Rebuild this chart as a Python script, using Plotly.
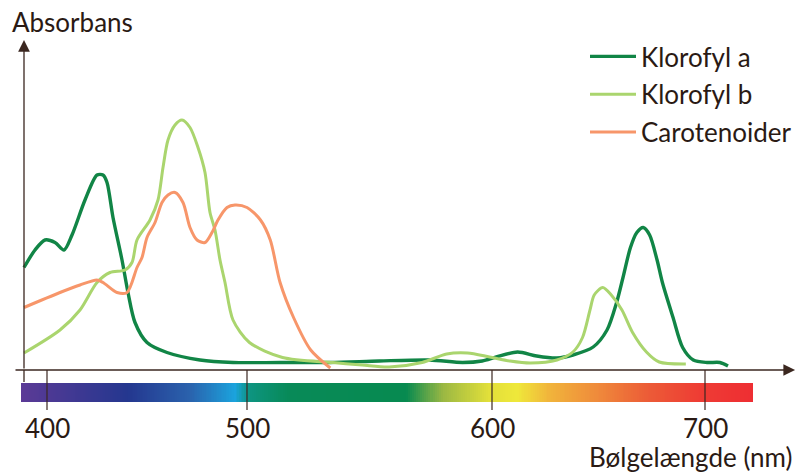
import numpy as np
import plotly.graph_objects as go

# ---------------- data (wavelength in nm, relative absorbance) ----------------
chl_a_nm = [388.5, 394, 399, 404, 408.5, 412.5, 419, 425, 428, 430, 433, 437.5, 440.5, 444, 450, 460,
            476.5, 493, 513.5, 534, 554, 574.5, 588, 596, 602, 612, 621, 630.5, 638, 647.5, 654, 658.5,
            661.5, 665, 668, 671, 674, 677.5, 680, 685, 689.5, 694.5, 701, 707, 710.8]
chl_a_abs = [0.41, 0.48, 0.52, 0.51, 0.48, 0.54, 0.68, 0.78, 0.78, 0.75, 0.61, 0.44, 0.31, 0.19, 0.11, 0.07,
             0.04, 0.03, 0.03, 0.03, 0.036, 0.04, 0.03, 0.036, 0.052, 0.072, 0.056, 0.048, 0.06, 0.092, 0.16, 0.27,
             0.37, 0.49, 0.55, 0.57, 0.54, 0.44, 0.35, 0.21, 0.09, 0.04, 0.03, 0.03, 0.016]

chl_b_nm = [388.5, 406.5, 416.5, 425, 431.5, 439, 442.5, 445, 451.5, 455.5, 458, 460.5, 464, 467.5, 471.5,
            475.5, 479, 481.5, 484, 486.5, 489, 493, 501, 514.5, 535, 547, 558, 571.5, 581.5, 590, 599,
            608.5, 618, 630.5, 638, 642.5, 646, 648, 652, 656, 661, 666, 672.5, 678.5, 691]
chl_b_abs = [0.068, 0.16, 0.24, 0.35, 0.39, 0.40, 0.43, 0.52, 0.60, 0.68, 0.81, 0.92, 0.98, 1.0, 0.97,
             0.89, 0.79, 0.63, 0.56, 0.44, 0.35, 0.20, 0.11, 0.05, 0.03, 0.02, 0.012, 0.03, 0.064, 0.068, 0.052,
             0.036, 0.028, 0.04, 0.072, 0.13, 0.24, 0.30, 0.33, 0.30, 0.24, 0.15, 0.072, 0.032, 0.024]

car_nm = [388.5, 406.5, 416.5, 425, 428, 435, 440, 445, 447.5, 450, 454, 457.5, 460.5, 464, 468, 471.5,
          475, 479, 482.5, 485.5, 490, 494, 500, 505.5, 509.5, 513.5, 519, 526, 534]
car_abs = [0.25, 0.31, 0.34, 0.36, 0.35, 0.31, 0.31, 0.41, 0.45, 0.53, 0.59, 0.67, 0.70, 0.71, 0.67, 0.57,
           0.52, 0.51, 0.55, 0.60, 0.65, 0.66, 0.65, 0.60, 0.52, 0.35, 0.21, 0.08, 0.008]

series_names = ["Klorofyl a", "Klorofyl b", "Carotenoider"]

tick_nm = [400, 500, 600, 700]
tick_labels = ["400", "500", "600", "700"]

spectrum_nm = [387, 440.5, 471.5, 494, 501, 517, 565, 580, 599, 612, 626.5, 649.5, 673, 697.5, 722.5]
spectrum_colors = ["#5b3a96", "#24378f", "#2a62ad", "#1ba3dd", "#0d9480", "#088a58", "#078a50",
                   "#9bb843", "#e3e03a", "#efe83a", "#f1b53b", "#ef8a3b", "#ec5c37", "#ee3c34", "#ee2e33"]

# ---------------- styling ----------------
W, H = 798, 472
AX = "#3b2720"
TXT = "#2a1a14"
FONT = "Lato"
FS = 26
colors = ["#118546", "#aad56e", "#f7966a"]
widths = [3.4, 3.0, 3.0]

# the printed wavelength axis is not evenly spaced: positions of the ticks along the axis
TICK_POS = [47, 247, 492, 705]


def to_pos(nm):
    nm = np.asarray(nm, dtype=float)
    pos = np.interp(nm, tick_nm, TICK_POS)
    lo_slope = (TICK_POS[1] - TICK_POS[0]) / (tick_nm[1] - tick_nm[0])
    hi_slope = (TICK_POS[-1] - TICK_POS[-2]) / (tick_nm[-1] - tick_nm[-2])
    pos = np.where(nm < tick_nm[0], TICK_POS[0] + (nm - tick_nm[0]) * lo_slope, pos)
    pos = np.where(nm > tick_nm[-1], TICK_POS[-1] + (nm - tick_nm[-1]) * hi_slope, pos)
    return pos


fig = go.Figure()

# spectrum bar
edges_nm = np.linspace(spectrum_nm[0], spectrum_nm[-1], 401)
centers_nm = 0.5 * (edges_nm[:-1] + edges_nm[1:])
lo, hi = spectrum_nm[0], spectrum_nm[-1]
cscale = [[(v - lo) / (hi - lo), c] for v, c in zip(spectrum_nm, spectrum_colors)]
fig.add_trace(go.Heatmap(
    x=to_pos(edges_nm), y=[-0.128, -0.052], z=[centers_nm],
    colorscale=cscale, zmin=lo, zmax=hi, showscale=False, hoverinfo="skip"))

# tick marks
tx, ty = [], []
for t in to_pos(tick_nm):
    tx += [t, t, None]
    ty += [0, -0.16, None]
fig.add_trace(go.Scatter(x=tx, y=ty, mode="lines", line=dict(color=AX, width=1.2),
                         showlegend=False, hoverinfo="skip"))

# y axis stub below the x axis
y_axis_nm = 388.5
fig.add_trace(go.Scatter(x=to_pos([y_axis_nm, y_axis_nm]), y=[-0.048, 0.0], mode="lines",
                         line=dict(color=AX, width=1.3), showlegend=False, hoverinfo="skip"))

# curves
for i, (xs, ys) in enumerate([(chl_a_nm, chl_a_abs), (chl_b_nm, chl_b_abs), (car_nm, car_abs)]):
    fig.add_trace(go.Scatter(
        x=to_pos(xs), y=ys, mode="lines", name=series_names[i], legendgroup=series_names[i],
        line=dict(color=colors[i], width=widths[i], shape="spline", smoothing=0.8)))

# axis arrows
fig.add_annotation(x=float(to_pos(y_axis_nm)), y=1.32, ax=float(to_pos(y_axis_nm)), ay=0.0,
                   xref="x", yref="y", axref="x", ayref="y", text="", showarrow=True,
                   arrowhead=2, arrowsize=1.8, arrowwidth=1.3, arrowcolor=AX, standoff=0)
fig.add_annotation(x=float(to_pos(742.3)), y=0.0, ax=float(to_pos(383.5)), ay=0.0,
                   xref="x", yref="y", axref="x", ayref="y", text="", showarrow=True,
                   arrowhead=2, arrowsize=1.8, arrowwidth=1.3, arrowcolor=AX, standoff=0)

# tick labels
for t, lab in zip(to_pos(tick_nm), tick_labels):
    fig.add_annotation(x=float(t), y=-0.232, xref="x", yref="y", text=lab, showarrow=False,
                       font=dict(family=FONT, size=FS, color=TXT), xanchor="center", yanchor="middle")

fig.add_annotation(x=1 - 3 / W, y=1 - 457 / H, xref="paper", yref="paper", text="Bølgelængde (nm)",
                   showarrow=False, font=dict(family=FONT, size=FS, color=TXT),
                   xanchor="right", yanchor="middle")
fig.add_annotation(x=10 / W, y=1 - 22 / H, xref="paper", yref="paper", text="Absorbans",
                   showarrow=False, font=dict(family=FONT, size=FS, color=TXT),
                   xanchor="left", yanchor="middle")

fig.update_layout(
    width=W, height=H, margin=dict(l=0, r=0, t=0, b=0),
    paper_bgcolor="white", plot_bgcolor="white",
    xaxis=dict(range=[0, W], visible=False, fixedrange=True),
    yaxis=dict(range=[-(H - 370) / 250, 370 / 250], visible=False, fixedrange=True),
    legend=dict(x=585 / W, y=1 - 33 / H, xanchor="left", yanchor="top",
                font=dict(family=FONT, size=FS, color=TXT), bgcolor="rgba(0,0,0,0)",
                tracegroupgap=1, itemwidth=46),
    showlegend=True,
)

fig.write_html("out.html", config={"displayModeBar": False},
               post_script="document.body.style.margin='0';document.body.style.overflow='hidden';")
